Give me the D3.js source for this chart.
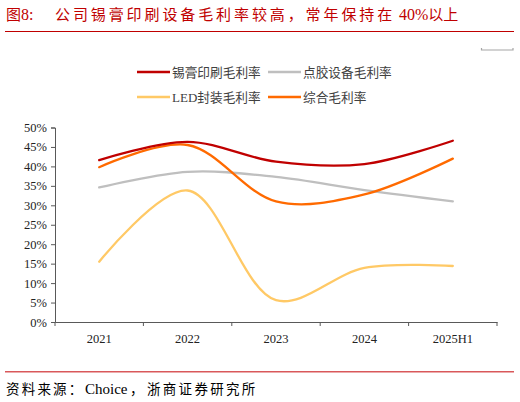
<!DOCTYPE html>
<html><head><meta charset="utf-8">
<script src="https://cdn.jsdelivr.net/npm/d3@7"></script>
<style>body{margin:0;background:#fff}svg{display:block}</style>
</head><body>
<svg id="c" width="520" height="402"></svg>
<script>
const categories = ["2021","2022","2023","2024","2025H1"];
const solderPaste = [41.6, 46.3, 41.2, 40.6, 46.6];
const dispensing = [34.6, 38.6, 37.3, 33.9, 31.0];
const ledPackaging = [15.5, 33.8, 5.6, 13.9, 14.4];
const overall = [39.8, 45.5, 31.0, 32.8, 42.0];
const yTicks = [0,5,10,15,20,25,30,35,40,45,50];
const seriesNames = ["锡膏印刷毛利率","点胶设备毛利率","LED封装毛利率","综合毛利率"];
const seriesColors = ["#C00000","#BFBFBF","#FFC966","#FF6A00"];
const seriesData = [solderPaste, dispensing, ledPackaging, overall];

const svg = d3.select("#c");
const serif = "'Liberation Serif','Times New Roman','Noto Sans CJK SC',serif";
const cjk = "'Noto Sans CJK SC','Liberation Serif',serif";

// title
const t = svg.append("text").attr("y",20).attr("fill","#C00000")
  .attr("font-family",cjk).attr("font-size",15);
t.append("tspan").attr("x",6).text("图");
t.append("tspan").attr("font-family",serif).attr("font-size",16).text("8:");
t.append("tspan").attr("x",55).attr("letter-spacing",2.9).text("公司锡膏印刷设备毛利率较高，常年保持在");
t.append("tspan").attr("x",399).attr("font-family",serif).attr("font-size",16).text("40%");
t.append("tspan").text("以上");
svg.append("line").attr("x1",5).attr("x2",514).attr("y1",31.5).attr("y2",31.5)
  .attr("stroke","#C00000").attr("stroke-width",1.2);
svg.append("path").attr("d","M481.5,48 V50 H513 V48").attr("fill","none")
  .attr("stroke","#A6A6A6").attr("stroke-width",1.2);

// footer
svg.append("line").attr("x1",5).attr("x2",514).attr("y1",371.8).attr("y2",371.8)
  .attr("stroke","#D9585A").attr("stroke-width",1.4);
const s = svg.append("text").attr("y",394).attr("fill","#000")
  .attr("font-family",cjk).attr("font-size",13.5);
s.append("tspan").attr("x",6).attr("letter-spacing",2.2).text("资料来源：");
s.append("tspan").attr("x",85).attr("font-family",serif).attr("font-size",15).text("Choice");
s.append("tspan").attr("x",130).text("，");
s.append("tspan").attr("x",147).attr("letter-spacing",2.3).text("浙商证券研究所");

const x = d3.scaleBand().domain(categories).range([55,497]);
const y = d3.scaleLinear().domain([0,50]).range([322,127.5]);

const axisColor = "#595959";
const yAxis = svg.append("g").attr("transform","translate(55,0)")
  .call(d3.axisLeft(y).tickValues(yTicks).tickSize(4).tickFormat(d=>d+"%"));
const xAxis = svg.append("g").attr("transform","translate(0,322)")
  .call(d3.axisBottom(x).tickSize(0).tickPadding(12));
[yAxis,xAxis].forEach(g=>{
  g.attr("font-family",serif);
  g.selectAll("path,line").attr("stroke",axisColor);
  g.selectAll("text").attr("fill","#222").attr("font-family",serif).attr("font-size",12.5);
});
yAxis.selectAll("text").attr("dx",-1);
const bounds = categories.map(c=>x(c)).concat([x.range()[1]]);
svg.append("g").selectAll("line").data(bounds).join("line")
  .attr("x1",d=>d).attr("x2",d=>d).attr("y1",322).attr("y2",326)
  .attr("stroke",axisColor);

const line = d3.line().x((d,i)=>x(categories[i])+x.bandwidth()/2).y(d=>y(d))
  .curve(d3.curveCatmullRom.alpha(0.5));
[1,2,3,0].forEach(k=>{
  svg.append("path").datum(seriesData[k]).attr("d",line).attr("fill","none")
    .attr("stroke",seriesColors[k]).attr("stroke-width",2.3).attr("stroke-linecap","round");
});

// legend
const leg = [[137,72],[268,72],[137,97],[268,97]];
seriesNames.forEach((n,i)=>{
  const [lx,ly]=leg[i];
  svg.append("line").attr("x1",lx).attr("x2",lx+33).attr("y1",ly).attr("y2",ly)
    .attr("stroke",seriesColors[i]).attr("stroke-width",2.3);
  const tx = svg.append("text").attr("x",lx+35).attr("y",ly+4.5).attr("fill","#404040")
    .attr("font-family",cjk).attr("font-size",12.7);
  if (n.startsWith("LED")) {
    tx.append("tspan").attr("font-family",serif).attr("font-size",13).text("LED");
    tx.append("tspan").text(n.slice(3));
  } else tx.text(n);
});
</script>
</body></html>
